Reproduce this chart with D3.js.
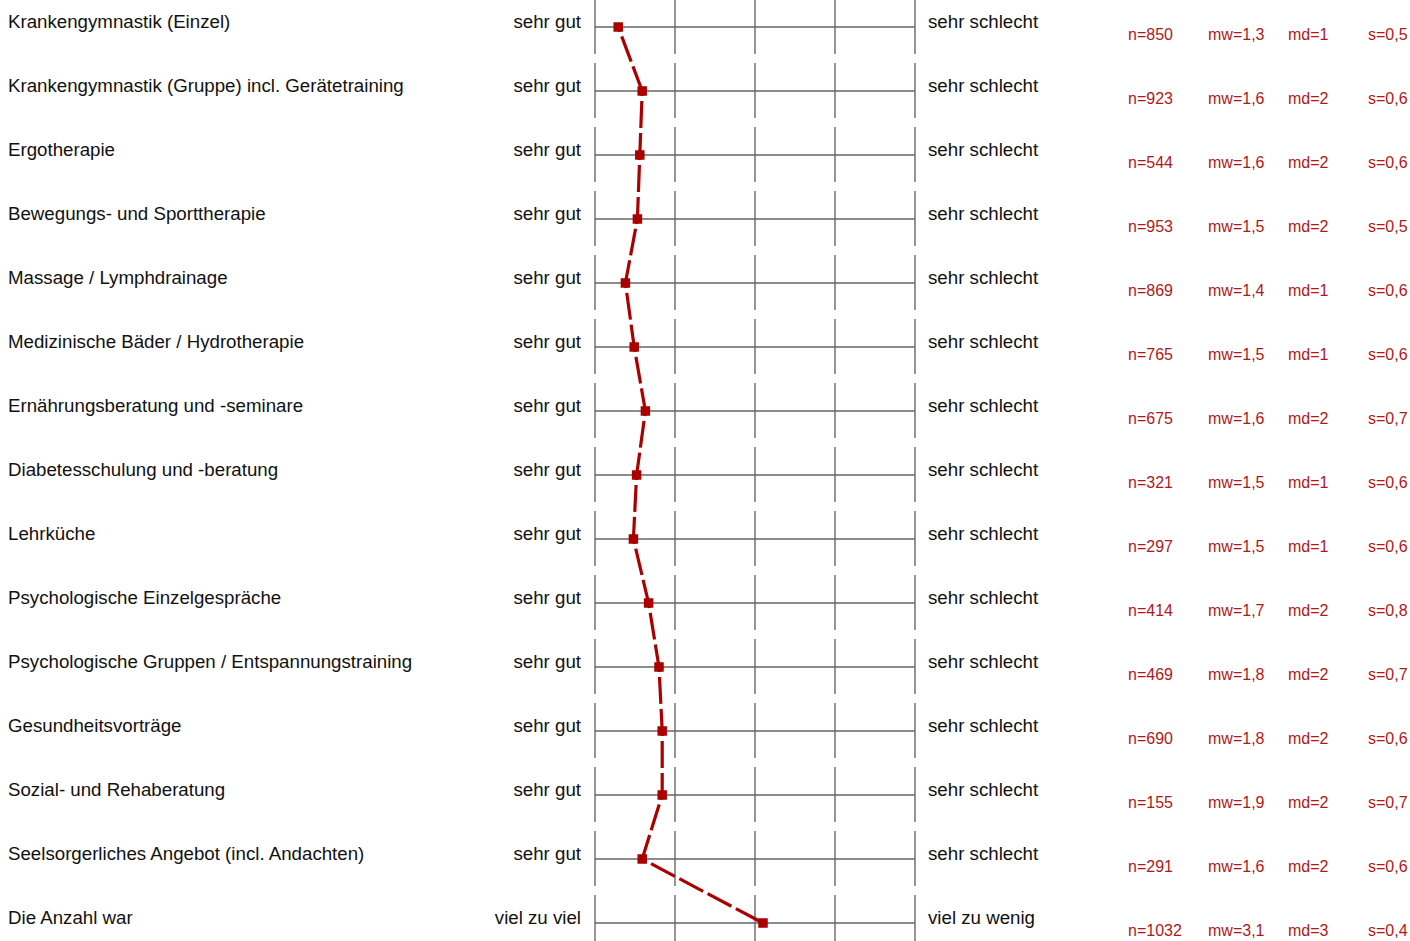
<!DOCTYPE html>
<html>
<head>
<meta charset="utf-8" />
<title>Bewertung Therapieangebote</title>
<script src="https://cdn.jsdelivr.net/npm/d3@7"></script>
<style>
  body { margin: 0; background: #fff; }
  svg text { font-family: "Liberation Sans", Arial, sans-serif; }
  .label { font-size: 18.7px; fill: #111; }
  .stat { font-size: 16px; fill: #b01818; }
  .grid line { stroke: #7a7a7a; stroke-width: 1.6px; }
  .base { stroke: #666; stroke-width: 1.4px; }
  .profile { fill: none; stroke: #aa0000; stroke-width: 3.2px; stroke-dasharray: 27,5; stroke-dashoffset: 22; }
  .marker { fill: #aa0000; }
</style>
</head>
<body>
<svg id="chart"></svg>
<script>
// items and anchors
var items = [
  "Krankengymnastik (Einzel)",
  "Krankengymnastik (Gruppe) incl. Gerätetraining",
  "Ergotherapie",
  "Bewegungs- und Sporttherapie",
  "Massage / Lymphdrainage",
  "Medizinische Bäder / Hydrotherapie",
  "Ernährungsberatung und -seminare",
  "Diabetesschulung und -beratung",
  "Lehrküche",
  "Psychologische Einzelgespräche",
  "Psychologische Gruppen / Entspannungstraining",
  "Gesundheitsvorträge",
  "Sozial- und Rehaberatung",
  "Seelsorgerliches Angebot (incl. Andachten)",
  "Die Anzahl war"
];
var leftAnchor = ["sehr gut","sehr gut","sehr gut","sehr gut","sehr gut","sehr gut","sehr gut",
  "sehr gut","sehr gut","sehr gut","sehr gut","sehr gut","sehr gut","sehr gut","viel zu viel"];
var rightAnchor = ["sehr schlecht","sehr schlecht","sehr schlecht","sehr schlecht","sehr schlecht",
  "sehr schlecht","sehr schlecht","sehr schlecht","sehr schlecht","sehr schlecht","sehr schlecht",
  "sehr schlecht","sehr schlecht","sehr schlecht","viel zu wenig"];

// plotted means
var means = [1.29, 1.59, 1.56, 1.53, 1.38, 1.49, 1.63, 1.52, 1.48, 1.67, 1.80, 1.84, 1.84, 1.59, 3.10];

// statistics columns
var nVals  = [850, 923, 544, 953, 869, 765, 675, 321, 297, 414, 469, 690, 155, 291, 1032];
var mwVals = ["1,3","1,6","1,6","1,5","1,4","1,5","1,6","1,5","1,5","1,7","1,8","1,8","1,9","1,6","3,1"];
var mdVals = [1, 2, 2, 2, 1, 1, 2, 1, 1, 2, 2, 2, 2, 2, 3];
var sVals  = ["0,5","0,6","0,6","0,5","0,6","0,6","0,7","0,6","0,6","0,8","0,7","0,6","0,7","0,6","0,4"];

var scaleTicks = [1, 2, 3, 4, 5];

var width = 1410, height = 941;
var svg = d3.select("#chart").attr("width", width).attr("height", height);

var x = d3.scaleLinear().domain([1, 5]).range([595, 915]);
var y = d3.scalePoint().domain(d3.range(items.length)).range([27, 923]);

var rows = svg.selectAll("g.row")
  .data(items)
  .enter().append("g")
  .attr("class", "row")
  .attr("transform", function(d, i) { return "translate(0," + y(i) + ")"; });

// vertical scale ticks per row
rows.append("g").attr("class", "grid")
  .selectAll("line")
  .data(scaleTicks)
  .enter().append("line")
  .attr("x1", function(d) { return x(d); })
  .attr("x2", function(d) { return x(d); })
  .attr("y1", -28).attr("y2", 27);

rows.append("line").attr("class", "base")
  .attr("x1", x(1)).attr("x2", x(5))
  .attr("y1", 0).attr("y2", 0);

rows.append("text").attr("class", "label")
  .attr("x", 8).attr("y", 0.5)
  .text(function(d) { return d; });

rows.append("text").attr("class", "label")
  .attr("x", 581).attr("y", 0.5)
  .attr("text-anchor", "end")
  .text(function(d, i) { return leftAnchor[i]; });

rows.append("text").attr("class", "label")
  .attr("x", 928).attr("y", 0.5)
  .text(function(d, i) { return rightAnchor[i]; });

// stats
var statCols = [
  { x: 1128, f: function(i) { return "n=" + nVals[i]; } },
  { x: 1208, f: function(i) { return "mw=" + mwVals[i]; } },
  { x: 1288, f: function(i) { return "md=" + mdVals[i]; } },
  { x: 1368, f: function(i) { return "s=" + sVals[i]; } }
];
statCols.forEach(function(c) {
  rows.append("text").attr("class", "stat")
    .attr("x", c.x).attr("y", 13)
    .text(function(d, i) { return c.f(i); });
});

// profile line, one dashed segment between neighbouring rows
var pts = means.map(function(d, i) { return [x(d), y(i)]; });
var line = d3.line();

svg.selectAll("path.profile")
  .data(d3.pairs(pts))
  .enter().append("path")
  .attr("class", "profile")
  .attr("d", function(d) { return line(d); });

svg.selectAll("rect.marker")
  .data(means)
  .enter().append("rect")
  .attr("class", "marker")
  .attr("x", function(d) { return x(d) - 4.75; })
  .attr("y", function(d, i) { return y(i) - 4.75; })
  .attr("width", 9.5).attr("height", 9.5);
</script>
</body>
</html>
